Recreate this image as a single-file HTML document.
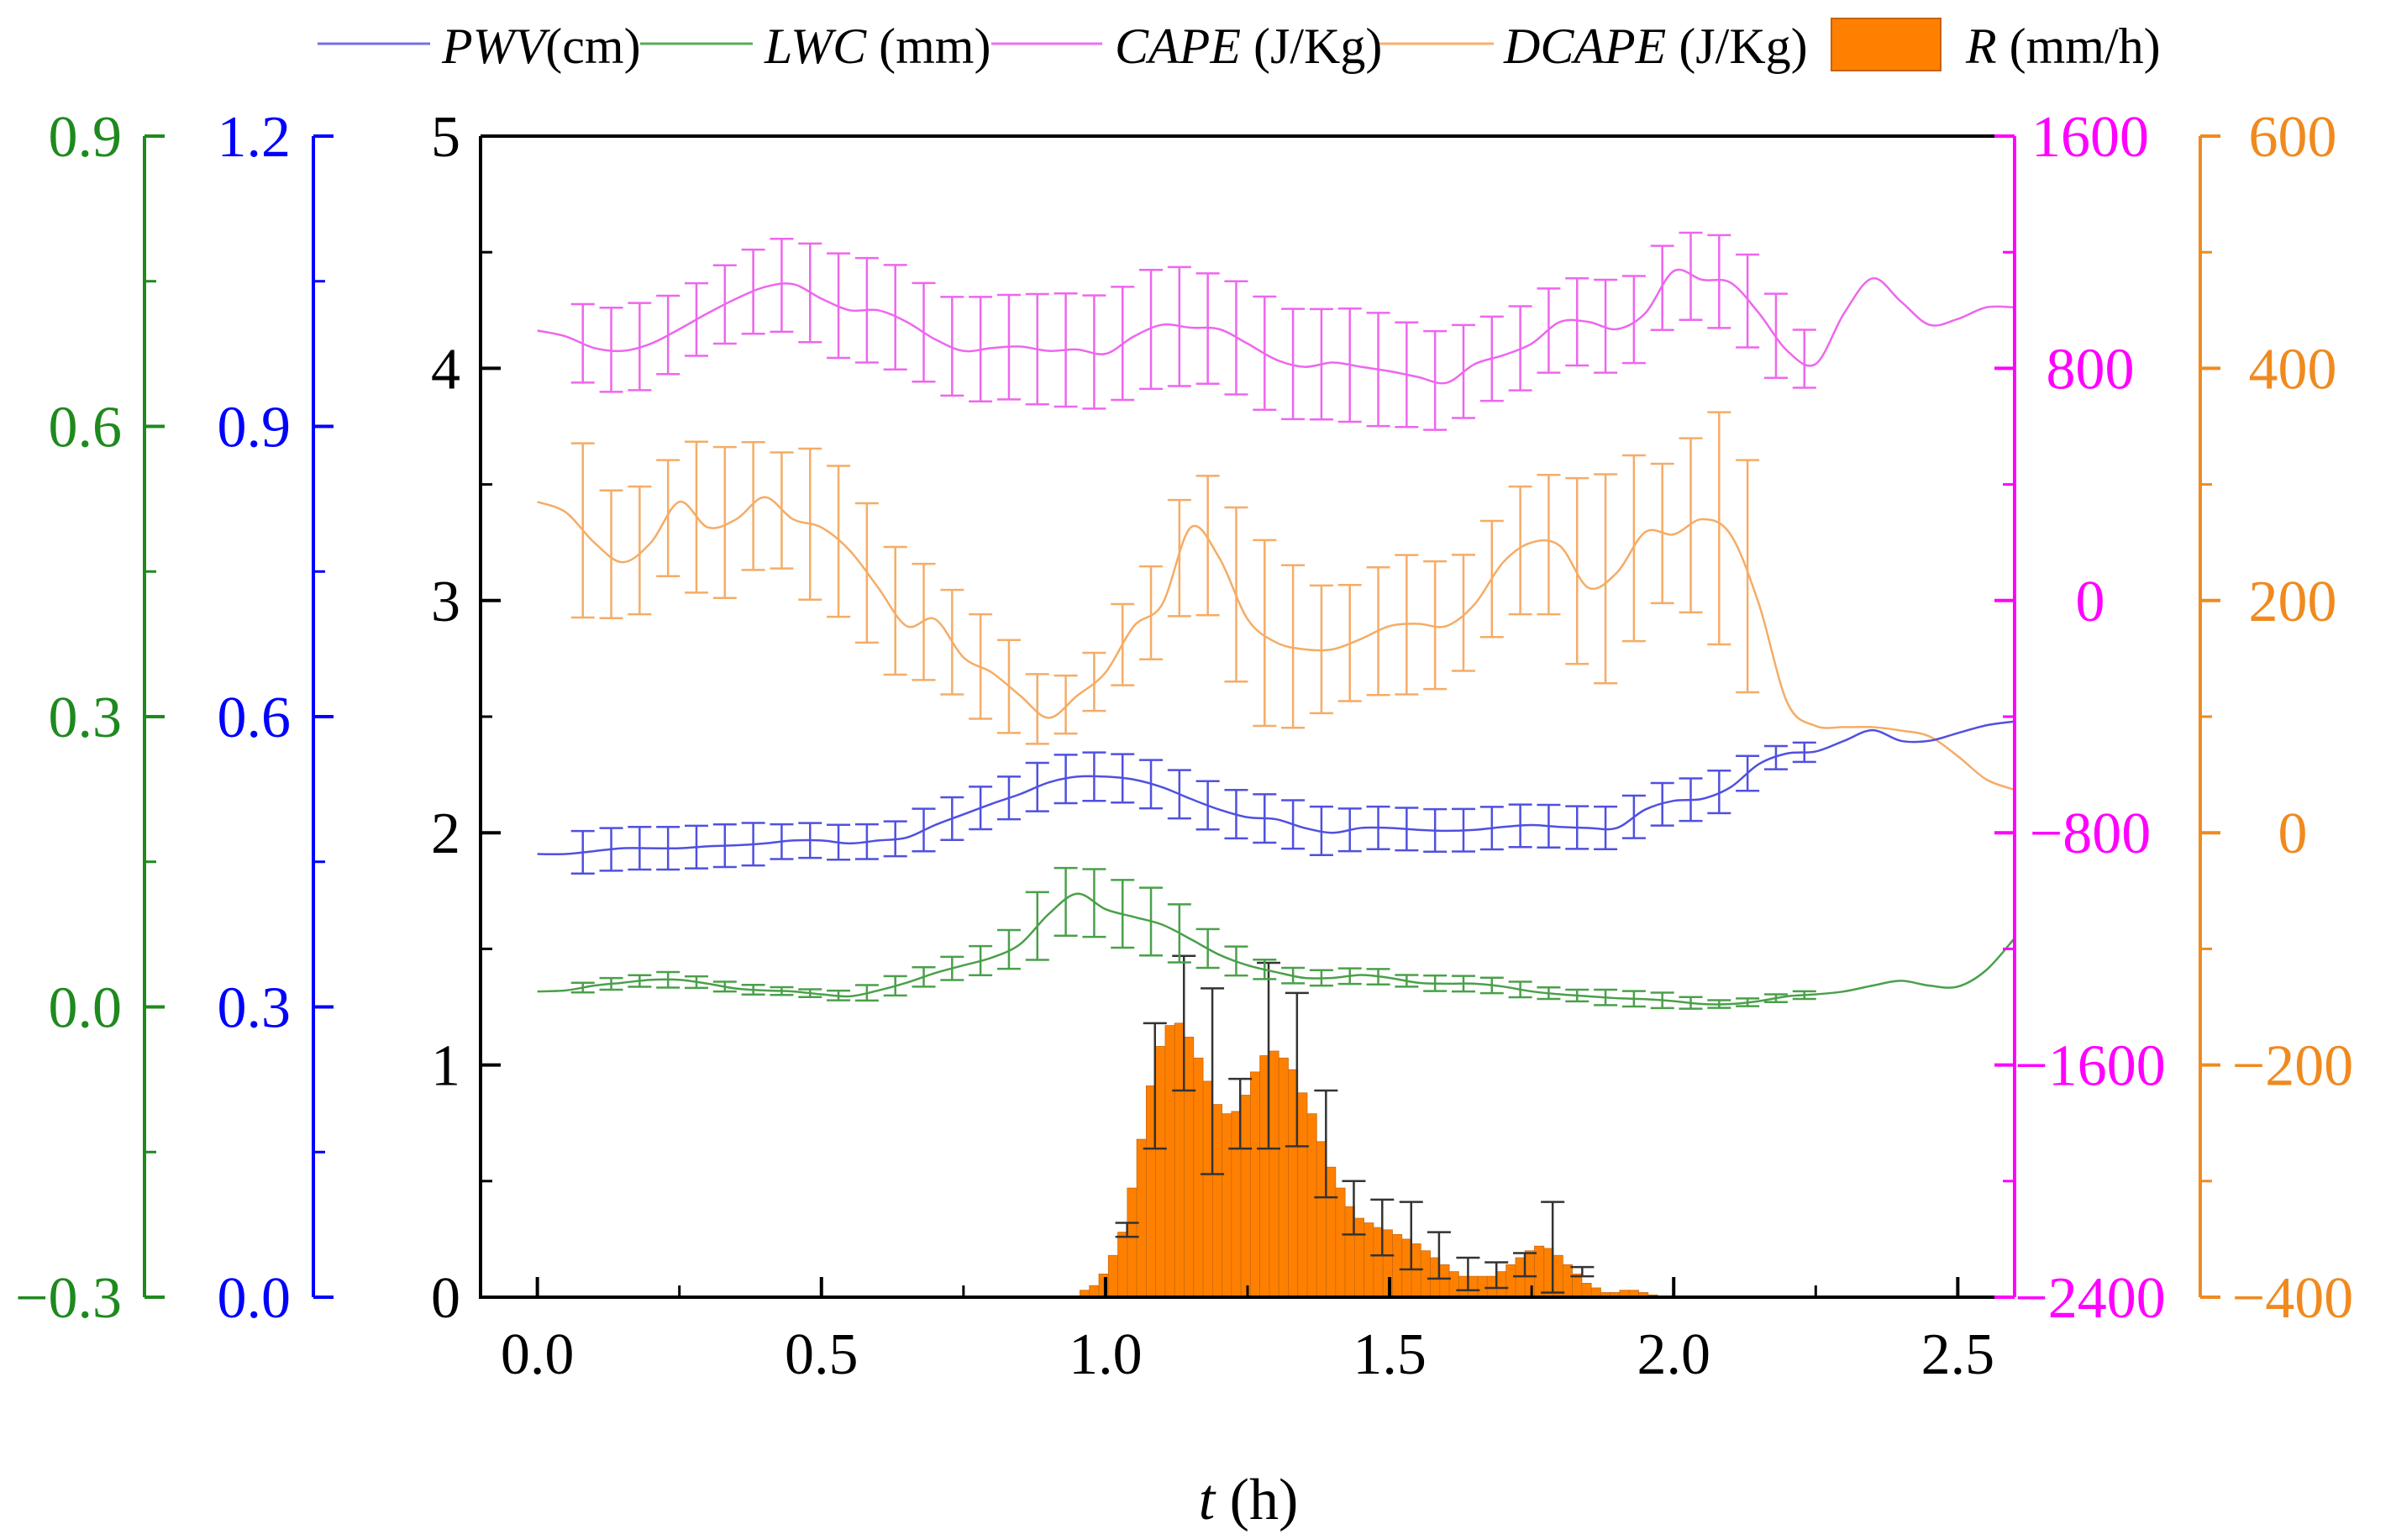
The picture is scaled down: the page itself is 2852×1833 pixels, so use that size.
<!DOCTYPE html>
<html><head><meta charset="utf-8"><style>
html,body{margin:0;padding:0;background:#fff;}
svg{display:block;font-family:"Liberation Serif",serif;}
</style></head><body>
<svg id="chart" width="2852" height="1833" viewBox="0 0 2852 1833" xmlns="http://www.w3.org/2000/svg">
<g id="legend" font-size="60">
  <g><line x1="378" y1="52" x2="512" y2="52" stroke="#7070e8" stroke-width="3"/><text x="526" y="75"><tspan font-style="italic">PWV</tspan>(cm)</text></g>
  <g><line x1="762" y1="52" x2="896" y2="52" stroke="#5aaa5a" stroke-width="3"/><text x="910" y="75"><tspan font-style="italic">LWC</tspan> (mm)</text></g>
  <g><line x1="1180" y1="52" x2="1312" y2="52" stroke="#ee70ee" stroke-width="3"/><text x="1327" y="75"><tspan font-style="italic">CAPE</tspan> (J/Kg)</text></g>
  <g><line x1="1642" y1="52" x2="1778" y2="52" stroke="#f6b070" stroke-width="3"/><text x="1790" y="75"><tspan font-style="italic">DCAPE</tspan> (J/Kg)</text></g>
  <g><rect x="2180" y="22" width="130" height="62" fill="#ff8000" stroke="#c86000" stroke-width="2"/><text x="2340" y="75"><tspan font-style="italic">R</tspan> (mm/h)</text></g>
</g>
<g id="plot"></g>
<text x="1486" y="1808" font-size="70" text-anchor="middle"><tspan font-style="italic">t</tspan> (h)</text>
</svg>
<script>
const tGrid=[0,0.05,0.1,0.15,0.2,0.25,0.3,0.35,0.4,0.45,0.5,0.55,0.6,0.65,0.7,0.75,0.8,0.85,0.9,0.95,1.0,1.05,1.1,1.15,1.2,1.25,1.3,1.35,1.4,1.45,1.5,1.55,1.6,1.65,1.7,1.75,1.8,1.85,1.9,1.95,2.0,2.05,2.1,2.15,2.2,2.25,2.3,2.35,2.4,2.45,2.5,2.55,2.6];
const capeValues=[930,910,870,860,885,935,990,1040,1080,1090,1040,1000,1000,960,900,860,870,875,860,865,850,910,950,940,935,885,830,805,820,805,790,770,750,815,845,885,960,960,935,990,1135,1105,1095,990,860,815,990,1110,1030,950,970,1010,1010];
const dcapeValues=[285,276,250,233,250,285,263,270,289,270,263,243,211,178,184,151,138,118,99,118,138,178,197,263,237,184,164,158,158,167,178,180,178,197,233,250,247,211,224,259,257,270,257,197,112,92,91,91,88,83,66,46,37];
const pwvValues=[0.458,0.458,0.461,0.464,0.464,0.464,0.466,0.467,0.469,0.472,0.472,0.469,0.472,0.475,0.488,0.499,0.510,0.520,0.532,0.538,0.538,0.535,0.527,0.515,0.504,0.496,0.494,0.485,0.480,0.485,0.485,0.483,0.482,0.483,0.486,0.488,0.486,0.485,0.485,0.504,0.513,0.515,0.527,0.551,0.562,0.564,0.575,0.586,0.575,0.575,0.583,0.591,0.595];
const lwcValues=[0.016,0.017,0.022,0.025,0.028,0.028,0.024,0.019,0.017,0.016,0.013,0.011,0.017,0.025,0.035,0.043,0.051,0.065,0.096,0.117,0.101,0.093,0.085,0.070,0.054,0.043,0.036,0.030,0.030,0.033,0.030,0.025,0.024,0.024,0.021,0.016,0.013,0.011,0.009,0.008,0.006,0.003,0.003,0.006,0.011,0.013,0.016,0.022,0.027,0.022,0.021,0.038,0.071];
const errT=[0.08,0.13,0.18,0.23,0.28,0.33,0.38,0.43,0.48,0.53,0.58,0.63,0.68,0.73,0.78,0.83,0.88,0.93,0.98,1.03,1.08,1.13,1.18,1.23,1.28,1.33,1.38,1.43,1.48,1.53,1.58,1.63,1.68,1.73,1.78,1.83,1.88,1.93,1.98,2.03,2.08,2.13,2.18,2.23];
const capeErr=[135,145,150,135,125,135,145,160,170,180,180,180,170,170,180,180,190,195,195,195,205,205,190,195,195,190,190,195,195,180,170,160,145,145,145,150,160,150,145,150,160,160,145,100];
const dcapeErr=[75,55,55,50,65,65,55,50,65,65,60,55,50,45,45,40,30,25,25,35,40,50,60,75,80,70,55,50,55,60,55,50,50,55,60,80,90,80,60,75,100,100,0,0];
const pwvErr=[0.022,0.022,0.022,0.022,0.022,0.022,0.022,0.018,0.018,0.018,0.018,0.018,0.022,0.022,0.022,0.022,0.025,0.025,0.025,0.025,0.025,0.025,0.025,0.025,0.025,0.025,0.025,0.022,0.022,0.022,0.022,0.022,0.022,0.022,0.022,0.022,0.022,0.022,0.022,0.022,0.022,0.018,0.012,0.01];
const lwcErr=[0.005,0.006,0.006,0.008,0.006,0.005,0.005,0.004,0.004,0.005,0.008,0.01,0.01,0.012,0.015,0.02,0.035,0.035,0.035,0.035,0.035,0.03,0.02,0.015,0.01,0.008,0.008,0.008,0.008,0.006,0.008,0.008,0.008,0.008,0.006,0.006,0.008,0.008,0.008,0.006,0.004,0.004,0.004,0.004];
const rainT0=0.955;
const rainBin=1/60;
const rainValues=[0.03,0.05,0.10,0.18,0.28,0.47,0.68,0.91,1.08,1.17,1.18,1.12,1.03,0.93,0.83,0.79,0.80,0.87,0.97,1.04,1.06,1.03,0.98,0.88,0.79,0.67,0.56,0.47,0.39,0.34,0.32,0.30,0.29,0.27,0.25,0.23,0.20,0.17,0.14,0.11,0.09,0.09,0.09,0.09,0.11,0.14,0.17,0.20,0.22,0.21,0.18,0.14,0.10,0.06,0.04,0.02,0.02,0.03,0.03,0.02,0.01];
const rainErrT=[1.038,1.087,1.138,1.188,1.237,1.287,1.337,1.388,1.437,1.487,1.538,1.587,1.638,1.688,1.738,1.787,1.839];
const rainErrMid=[0.29,0.91,1.18,0.93,0.79,1.04,0.98,0.66,0.385,0.30,0.265,0.18,0.10,0.095,0.14,0.215,0.11];
const rainErrHalf=[0.03,0.27,0.29,0.40,0.15,0.40,0.33,0.23,0.115,0.12,0.145,0.10,0.07,0.055,0.05,0.195,0.02];
const leftTicks=[0,1,2,3,4,5];
const pwvTicks=[0.0,0.3,0.6,0.9,1.2];
const lwcTicks=[-0.3,0.0,0.3,0.6,0.9];
const capeTicks=[-2400,-1600,-800,0,800,1600];
const dcapeTicks=[-400,-200,0,200,400,600];
const xTicks=[0.0,0.5,1.0,1.5,2.0,2.5];

const NS="http://www.w3.org/2000/svg";
const X0=572,X1=2398,YB=1544,YT=162;
const xS=t=>X0+(t+0.1)/2.7*(X1-X0);
const lin=(a,b)=>v=>YB-(v-a)/(b-a)*(YB-YT);
const yL=lin(0,5),yP=lin(0,1.2),yW=lin(-0.3,0.9),yC=lin(-2400,1600),yD=lin(-400,600);
const plot=document.getElementById('plot');
function mk(tag,attrs,parent){const e=document.createElementNS(NS,tag);for(const k in attrs)e.setAttribute(k,attrs[k]);(parent||plot).appendChild(e);return e;}
function interp(ts,vs,t){for(let i=0;i<ts.length-1;i++){if(t>=ts[i]&&t<=ts[i+1]){const f=(t-ts[i])/(ts[i+1]-ts[i]);return vs[i]+f*(vs[i+1]-vs[i]);}}return vs[vs.length-1];}
function smooth(pts){let d='M'+pts[0][0]+','+pts[0][1];for(let i=0;i<pts.length-1;i++){const p0=pts[i-1]||pts[i],p1=pts[i],p2=pts[i+1],p3=pts[i+2]||p2;d+=' C'+(p1[0]+(p2[0]-p0[0])/6)+','+(p1[1]+(p2[1]-p0[1])/6)+' '+(p2[0]-(p3[0]-p1[0])/6)+','+(p2[1]-(p3[1]-p1[1])/6)+' '+p2[0]+','+p2[1];}return d;}

const rg=mk('g',{});


rainValues.forEach((v,i)=>{const t=rainT0+i*rainBin;const r=mk('rect',{x:xS(t),y:yL(v),width:xS(t+rainBin)-xS(t),height:YB-yL(v),fill:'#ff8000',stroke:'#c86a10','stroke-width':0.8},rg);

});
function errbars(name,ts,mids,halfs,ys,color,cap){const g=mk('g',{stroke:color,'stroke-width':2.5,fill:'none'});


ts.forEach((t,i)=>{if(!halfs[i])return;const x=xS(t),a=ys(mids[i]+halfs[i]),b=ys(mids[i]-halfs[i]);mk('path',{d:`M${x},${a}V${b}M${x-cap},${a}H${x+cap}M${x-cap},${b}H${x+cap}`},g);});}
errbars('rain-error-bars',rainErrT,rainErrMid,rainErrHalf,yL,'#333',14);
function series(name,vals,ys,color,errs){const pts=tGrid.map((t,i)=>[xS(t),ys(vals[i])]);
const p=mk('path',{d:smooth(pts),stroke:color,'stroke-width':2.5,fill:'none'});


errbars(name+'-error-bars',errT,errT.map(t=>interp(tGrid,vals,t)),errs,ys,color,14);}
series('cape',capeValues,yC,'#ee66ee',capeErr);
series('dcape',dcapeValues,yD,'#f5ac66',dcapeErr);
series('pwv',pwvValues,yP,'#5050e0',pwvErr);
series('lwc',lwcValues,yW,'#4aa04a',lwcErr);

const fr=mk('path',{d:`M${X0},${YT}V${YB}H${X1}M${X0},${YT}H${X1}`,stroke:'#000','stroke-width':4,fill:'none'});


function axis(name,x,ticks,ys,color,dir,anchor,lx,dec){const g=mk('g',{});


mk('line',{x1:x,y1:YT,x2:x,y2:YB,stroke:color,'stroke-width':4},g);
for(let i=0;i<ticks.length;i++){const y=ys(ticks[i]);mk('line',{x1:x,y1:y,x2:x+dir*24,y2:y,stroke:color,'stroke-width':4},g);
if(i<ticks.length-1){const ym=ys((ticks[i]+ticks[i+1])/2);mk('line',{x1:x,y1:ym,x2:x+dir*14,y2:ym,stroke:color,'stroke-width':3},g);}
const lbl=ticks[i]<0?'\u2212'+Math.abs(ticks[i]).toFixed(dec):ticks[i].toFixed(dec);
const tx=mk('text',{x:lx,y:y+24,fill:color,'font-size':70,'text-anchor':anchor},g);tx.textContent=lbl;

}}
axis('lwc-axis',172,lwcTicks,yW,'#1e8a1e',1,'end',145,1);
axis('pwv-axis',373,pwvTicks,yP,'#0000ff',1,'end',346,1);
axis('left-axis',X0,leftTicks,yL,'#000',1,'end',548,0);
axis('cape-axis',X1,capeTicks,yC,'#ff00ff',-1,'middle',2488,0);
axis('dcape-axis',2619,dcapeTicks,yD,'#f08a1e',1,'middle',2729,0);
const xg=mk('g',{});


xTicks.forEach((t,i)=>{const x=xS(t);mk('line',{x1:x,y1:YB,x2:x,y2:YB-24,stroke:'#000','stroke-width':4},xg);
const xm=xS(t+0.25);if(xm<X1)mk('line',{x1:xm,y1:YB,x2:xm,y2:YB-14,stroke:'#000','stroke-width':3},xg);
const tx=mk('text',{x:x,y:1635,'font-size':70,'text-anchor':'middle'},xg);tx.textContent=t.toFixed(1);

});
</script>
</body></html>
